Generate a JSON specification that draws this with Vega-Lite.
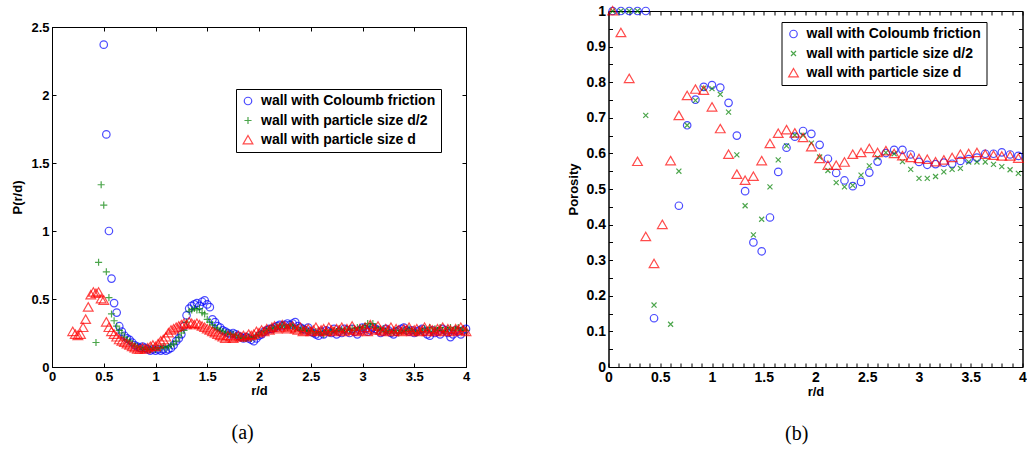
{
"$schema":"https://vega.github.io/schema/vega-lite/v6.json",
"background":"white",
"padding":{"left":11,"top":3,"right":0,"bottom":0},
"config":{
"font":"Liberation Sans",
"view":{"stroke":"black","strokeWidth":1},
"axis":{"grid":false,"domainColor":"black","domainWidth":1,"tickColor":"black","tickWidth":1,"tickSize":-4,"labelPadding":7,"labelFont":"Liberation Sans","labelFontSize":13,"labelFontWeight":"bold","labelColor":"black","titleFont":"Liberation Sans","titleFontSize":13,"titleFontWeight":"bold","titleColor":"black","labelFlush":false,"labelOverlap":false,"labelBound":false,"titlePadding":1},
"legend":{"orient":"none","labelFont":"Liberation Sans","labelFontSize":14,"labelFontWeight":"bold","labelColor":"black","labelLimit":400,"strokeColor":"black","fillColor":"white","padding":5,"rowPadding":5.5,"symbolStrokeWidth":1.2,"symbolSize":56,"labelOffset":6},
"title":{"font":"Liberation Serif","fontSize":20,"fontWeight":"normal","color":"black"}
},
"datasets":{
"left":[
{"r":0.5,"p":2.37,"s":"c"},{"r":0.525,"p":1.71,"s":"c"},{"r":0.55,"p":1.0,"s":"c"},{"r":0.575,"p":0.65,"s":"c"},{"r":0.6,"p":0.47,"s":"c"},{"r":0.625,"p":0.4,"s":"c"},{"r":0.65,"p":0.3,"s":"c"},{"r":0.675,"p":0.26,"s":"c"},{"r":0.7,"p":0.23,"s":"c"},{"r":0.725,"p":0.21,"s":"c"},{"r":0.75,"p":0.2,"s":"c"},{"r":0.775,"p":0.18,"s":"c"},{"r":0.8,"p":0.16,"s":"c"},{"r":0.825,"p":0.15,"s":"c"},{"r":0.85,"p":0.14,"s":"c"},{"r":0.875,"p":0.15,"s":"c"},{"r":0.9,"p":0.14,"s":"c"},{"r":0.925,"p":0.13,"s":"c"},{"r":0.95,"p":0.12,"s":"c"},{"r":0.975,"p":0.13,"s":"c"},{"r":1.0,"p":0.12,"s":"c"},{"r":1.025,"p":0.13,"s":"c"},{"r":1.05,"p":0.12,"s":"c"},{"r":1.075,"p":0.13,"s":"c"},{"r":1.1,"p":0.12,"s":"c"},{"r":1.125,"p":0.13,"s":"c"},{"r":1.15,"p":0.14,"s":"c"},{"r":1.175,"p":0.16,"s":"c"},{"r":1.2,"p":0.19,"s":"c"},{"r":1.225,"p":0.21,"s":"c"},{"r":1.25,"p":0.24,"s":"c"},{"r":1.275,"p":0.3,"s":"c"},{"r":1.3,"p":0.38,"s":"c"},{"r":1.325,"p":0.43,"s":"c"},{"r":1.35,"p":0.45,"s":"c"},{"r":1.375,"p":0.46,"s":"c"},{"r":1.4,"p":0.47,"s":"c"},{"r":1.425,"p":0.45,"s":"c"},{"r":1.45,"p":0.48,"s":"c"},{"r":1.475,"p":0.49,"s":"c"},{"r":1.5,"p":0.46,"s":"c"},{"r":1.525,"p":0.44,"s":"c"},{"r":1.55,"p":0.35,"s":"c"},{"r":1.575,"p":0.33,"s":"c"},{"r":1.6,"p":0.3,"s":"c"},{"r":1.625,"p":0.29,"s":"c"},{"r":1.65,"p":0.27,"s":"c"},{"r":1.675,"p":0.26,"s":"c"},{"r":1.7,"p":0.25,"s":"c"},{"r":1.725,"p":0.24,"s":"c"},{"r":1.75,"p":0.25,"s":"c"},{"r":1.775,"p":0.24,"s":"c"},{"r":1.8,"p":0.23,"s":"c"},{"r":1.825,"p":0.22,"s":"c"},{"r":1.85,"p":0.21,"s":"c"},{"r":1.875,"p":0.22,"s":"c"},{"r":1.9,"p":0.21,"s":"c"},{"r":1.925,"p":0.2,"s":"c"},{"r":1.95,"p":0.19,"s":"c"},{"r":1.975,"p":0.21,"s":"c"},{"r":2.0,"p":0.23,"s":"c"},{"r":2.025,"p":0.24,"s":"c"},{"r":2.05,"p":0.26,"s":"c"},{"r":2.075,"p":0.27,"s":"c"},{"r":2.1,"p":0.28,"s":"c"},{"r":2.125,"p":0.28,"s":"c"},{"r":2.15,"p":0.29,"s":"c"},{"r":2.175,"p":0.3,"s":"c"},{"r":2.2,"p":0.31,"s":"c"},{"r":2.225,"p":0.3,"s":"c"},{"r":2.25,"p":0.31,"s":"c"},{"r":2.275,"p":0.32,"s":"c"},{"r":2.3,"p":0.31,"s":"c"},{"r":2.325,"p":0.32,"s":"c"},{"r":2.35,"p":0.33,"s":"c"},{"r":2.375,"p":0.3,"s":"c"},{"r":2.4,"p":0.29,"s":"c"},{"r":2.425,"p":0.28,"s":"c"},{"r":2.45,"p":0.27,"s":"c"},{"r":2.475,"p":0.29,"s":"c"},{"r":2.5,"p":0.26,"s":"c"},{"r":2.525,"p":0.25,"s":"c"},{"r":2.55,"p":0.24,"s":"c"},{"r":2.575,"p":0.23,"s":"c"},{"r":2.6,"p":0.26,"s":"c"},{"r":2.625,"p":0.24,"s":"c"},{"r":2.65,"p":0.27,"s":"c"},{"r":2.675,"p":0.26,"s":"c"},{"r":2.7,"p":0.25,"s":"c"},{"r":2.725,"p":0.28,"s":"c"},{"r":2.75,"p":0.24,"s":"c"},{"r":2.775,"p":0.26,"s":"c"},{"r":2.8,"p":0.25,"s":"c"},{"r":2.825,"p":0.28,"s":"c"},{"r":2.85,"p":0.27,"s":"c"},{"r":2.875,"p":0.25,"s":"c"},{"r":2.9,"p":0.28,"s":"c"},{"r":2.925,"p":0.26,"s":"c"},{"r":2.95,"p":0.24,"s":"c"},{"r":2.975,"p":0.27,"s":"c"},{"r":3.0,"p":0.29,"s":"c"},{"r":3.025,"p":0.28,"s":"c"},{"r":3.05,"p":0.26,"s":"c"},{"r":3.075,"p":0.27,"s":"c"},{"r":3.1,"p":0.29,"s":"c"},{"r":3.125,"p":0.28,"s":"c"},{"r":3.15,"p":0.27,"s":"c"},{"r":3.175,"p":0.25,"s":"c"},{"r":3.2,"p":0.26,"s":"c"},{"r":3.225,"p":0.28,"s":"c"},{"r":3.25,"p":0.27,"s":"c"},{"r":3.275,"p":0.25,"s":"c"},{"r":3.3,"p":0.24,"s":"c"},{"r":3.325,"p":0.26,"s":"c"},{"r":3.35,"p":0.27,"s":"c"},{"r":3.375,"p":0.28,"s":"c"},{"r":3.4,"p":0.29,"s":"c"},{"r":3.425,"p":0.27,"s":"c"},{"r":3.45,"p":0.26,"s":"c"},{"r":3.475,"p":0.27,"s":"c"},{"r":3.5,"p":0.25,"s":"c"},{"r":3.525,"p":0.26,"s":"c"},{"r":3.55,"p":0.27,"s":"c"},{"r":3.575,"p":0.28,"s":"c"},{"r":3.6,"p":0.26,"s":"c"},{"r":3.625,"p":0.24,"s":"c"},{"r":3.65,"p":0.23,"s":"c"},{"r":3.675,"p":0.27,"s":"c"},{"r":3.7,"p":0.25,"s":"c"},{"r":3.725,"p":0.26,"s":"c"},{"r":3.75,"p":0.24,"s":"c"},{"r":3.775,"p":0.28,"s":"c"},{"r":3.8,"p":0.27,"s":"c"},{"r":3.825,"p":0.25,"s":"c"},{"r":3.85,"p":0.22,"s":"c"},{"r":3.875,"p":0.24,"s":"c"},{"r":3.9,"p":0.27,"s":"c"},{"r":3.925,"p":0.26,"s":"c"},{"r":3.95,"p":0.24,"s":"c"},{"r":3.975,"p":0.27,"s":"c"},{"r":4.0,"p":0.28,"s":"c"},
{"r":0.425,"p":0.18,"s":"h"},{"r":0.45,"p":0.77,"s":"h"},{"r":0.475,"p":1.34,"s":"h"},{"r":0.5,"p":1.19,"s":"h"},{"r":0.525,"p":0.7,"s":"h"},{"r":0.55,"p":0.51,"s":"h"},{"r":0.575,"p":0.39,"s":"h"},{"r":0.6,"p":0.34,"s":"h"},{"r":0.625,"p":0.3,"s":"h"},{"r":0.65,"p":0.27,"s":"h"},{"r":0.675,"p":0.25,"s":"h"},{"r":0.7,"p":0.22,"s":"h"},{"r":0.725,"p":0.2,"s":"h"},{"r":0.75,"p":0.19,"s":"h"},{"r":0.775,"p":0.17,"s":"h"},{"r":0.8,"p":0.16,"s":"h"},{"r":0.825,"p":0.15,"s":"h"},{"r":0.85,"p":0.14,"s":"h"},{"r":0.875,"p":0.13,"s":"h"},{"r":0.9,"p":0.14,"s":"h"},{"r":0.925,"p":0.13,"s":"h"},{"r":0.95,"p":0.13,"s":"h"},{"r":0.975,"p":0.14,"s":"h"},{"r":1.0,"p":0.13,"s":"h"},{"r":1.025,"p":0.14,"s":"h"},{"r":1.05,"p":0.14,"s":"h"},{"r":1.075,"p":0.15,"s":"h"},{"r":1.1,"p":0.14,"s":"h"},{"r":1.125,"p":0.15,"s":"h"},{"r":1.15,"p":0.16,"s":"h"},{"r":1.175,"p":0.17,"s":"h"},{"r":1.2,"p":0.19,"s":"h"},{"r":1.225,"p":0.22,"s":"h"},{"r":1.25,"p":0.25,"s":"h"},{"r":1.275,"p":0.27,"s":"h"},{"r":1.3,"p":0.33,"s":"h"},{"r":1.325,"p":0.41,"s":"h"},{"r":1.35,"p":0.42,"s":"h"},{"r":1.375,"p":0.43,"s":"h"},{"r":1.4,"p":0.42,"s":"h"},{"r":1.425,"p":0.43,"s":"h"},{"r":1.45,"p":0.4,"s":"h"},{"r":1.475,"p":0.39,"s":"h"},{"r":1.5,"p":0.35,"s":"h"},{"r":1.525,"p":0.33,"s":"h"},{"r":1.55,"p":0.31,"s":"h"},{"r":1.575,"p":0.29,"s":"h"},{"r":1.6,"p":0.28,"s":"h"},{"r":1.625,"p":0.27,"s":"h"},{"r":1.65,"p":0.26,"s":"h"},{"r":1.675,"p":0.25,"s":"h"},{"r":1.7,"p":0.25,"s":"h"},{"r":1.725,"p":0.24,"s":"h"},{"r":1.75,"p":0.24,"s":"h"},{"r":1.775,"p":0.23,"s":"h"},{"r":1.8,"p":0.22,"s":"h"},{"r":1.825,"p":0.22,"s":"h"},{"r":1.85,"p":0.21,"s":"h"},{"r":1.875,"p":0.21,"s":"h"},{"r":1.9,"p":0.22,"s":"h"},{"r":1.925,"p":0.21,"s":"h"},{"r":1.95,"p":0.22,"s":"h"},{"r":1.975,"p":0.23,"s":"h"},{"r":2.0,"p":0.24,"s":"h"},{"r":2.025,"p":0.25,"s":"h"},{"r":2.05,"p":0.26,"s":"h"},{"r":2.075,"p":0.27,"s":"h"},{"r":2.1,"p":0.28,"s":"h"},{"r":2.125,"p":0.29,"s":"h"},{"r":2.15,"p":0.28,"s":"h"},{"r":2.175,"p":0.3,"s":"h"},{"r":2.2,"p":0.29,"s":"h"},{"r":2.225,"p":0.31,"s":"h"},{"r":2.25,"p":0.3,"s":"h"},{"r":2.275,"p":0.29,"s":"h"},{"r":2.3,"p":0.31,"s":"h"},{"r":2.325,"p":0.3,"s":"h"},{"r":2.35,"p":0.28,"s":"h"},{"r":2.375,"p":0.29,"s":"h"},{"r":2.4,"p":0.27,"s":"h"},{"r":2.425,"p":0.28,"s":"h"},{"r":2.45,"p":0.27,"s":"h"},{"r":2.475,"p":0.26,"s":"h"},{"r":2.5,"p":0.27,"s":"h"},{"r":2.525,"p":0.25,"s":"h"},{"r":2.55,"p":0.26,"s":"h"},{"r":2.575,"p":0.25,"s":"h"},{"r":2.6,"p":0.26,"s":"h"},{"r":2.625,"p":0.24,"s":"h"},{"r":2.65,"p":0.27,"s":"h"},{"r":2.675,"p":0.25,"s":"h"},{"r":2.7,"p":0.26,"s":"h"},{"r":2.725,"p":0.27,"s":"h"},{"r":2.75,"p":0.26,"s":"h"},{"r":2.775,"p":0.28,"s":"h"},{"r":2.8,"p":0.27,"s":"h"},{"r":2.825,"p":0.26,"s":"h"},{"r":2.85,"p":0.28,"s":"h"},{"r":2.875,"p":0.27,"s":"h"},{"r":2.9,"p":0.28,"s":"h"},{"r":2.925,"p":0.27,"s":"h"},{"r":2.95,"p":0.29,"s":"h"},{"r":2.975,"p":0.28,"s":"h"},{"r":3.0,"p":0.29,"s":"h"},{"r":3.025,"p":0.3,"s":"h"},{"r":3.05,"p":0.32,"s":"h"},{"r":3.075,"p":0.31,"s":"h"},{"r":3.1,"p":0.32,"s":"h"},{"r":3.125,"p":0.29,"s":"h"},{"r":3.15,"p":0.28,"s":"h"},{"r":3.175,"p":0.27,"s":"h"},{"r":3.2,"p":0.28,"s":"h"},{"r":3.225,"p":0.26,"s":"h"},{"r":3.25,"p":0.27,"s":"h"},{"r":3.275,"p":0.25,"s":"h"},{"r":3.3,"p":0.26,"s":"h"},{"r":3.325,"p":0.27,"s":"h"},{"r":3.35,"p":0.25,"s":"h"},{"r":3.375,"p":0.26,"s":"h"},{"r":3.4,"p":0.27,"s":"h"},{"r":3.425,"p":0.26,"s":"h"},{"r":3.45,"p":0.28,"s":"h"},{"r":3.475,"p":0.27,"s":"h"},{"r":3.5,"p":0.26,"s":"h"},{"r":3.525,"p":0.25,"s":"h"},{"r":3.55,"p":0.27,"s":"h"},{"r":3.575,"p":0.26,"s":"h"},{"r":3.6,"p":0.28,"s":"h"},{"r":3.625,"p":0.27,"s":"h"},{"r":3.65,"p":0.29,"s":"h"},{"r":3.675,"p":0.26,"s":"h"},{"r":3.7,"p":0.28,"s":"h"},{"r":3.725,"p":0.27,"s":"h"},{"r":3.75,"p":0.29,"s":"h"},{"r":3.775,"p":0.27,"s":"h"},{"r":3.8,"p":0.26,"s":"h"},{"r":3.825,"p":0.28,"s":"h"},{"r":3.85,"p":0.29,"s":"h"},{"r":3.875,"p":0.27,"s":"h"},{"r":3.9,"p":0.28,"s":"h"},{"r":3.925,"p":0.29,"s":"h"},{"r":3.95,"p":0.27,"s":"h"},{"r":3.975,"p":0.28,"s":"h"},{"r":4.0,"p":0.27,"s":"h"},
{"r":0.2,"p":0.26,"s":"d"},{"r":0.225,"p":0.24,"s":"d"},{"r":0.25,"p":0.23,"s":"d"},{"r":0.275,"p":0.24,"s":"d"},{"r":0.3,"p":0.29,"s":"d"},{"r":0.325,"p":0.35,"s":"d"},{"r":0.35,"p":0.44,"s":"d"},{"r":0.375,"p":0.53,"s":"d"},{"r":0.4,"p":0.55,"s":"d"},{"r":0.425,"p":0.54,"s":"d"},{"r":0.45,"p":0.55,"s":"d"},{"r":0.475,"p":0.5,"s":"d"},{"r":0.5,"p":0.49,"s":"d"},{"r":0.525,"p":0.33,"s":"d"},{"r":0.55,"p":0.29,"s":"d"},{"r":0.575,"p":0.26,"s":"d"},{"r":0.6,"p":0.24,"s":"d"},{"r":0.625,"p":0.22,"s":"d"},{"r":0.65,"p":0.2,"s":"d"},{"r":0.675,"p":0.19,"s":"d"},{"r":0.7,"p":0.18,"s":"d"},{"r":0.725,"p":0.17,"s":"d"},{"r":0.75,"p":0.16,"s":"d"},{"r":0.775,"p":0.15,"s":"d"},{"r":0.8,"p":0.14,"s":"d"},{"r":0.825,"p":0.13,"s":"d"},{"r":0.85,"p":0.13,"s":"d"},{"r":0.875,"p":0.14,"s":"d"},{"r":0.9,"p":0.13,"s":"d"},{"r":0.925,"p":0.14,"s":"d"},{"r":0.95,"p":0.15,"s":"d"},{"r":0.975,"p":0.16,"s":"d"},{"r":1.0,"p":0.15,"s":"d"},{"r":1.025,"p":0.17,"s":"d"},{"r":1.05,"p":0.19,"s":"d"},{"r":1.075,"p":0.2,"s":"d"},{"r":1.1,"p":0.22,"s":"d"},{"r":1.125,"p":0.25,"s":"d"},{"r":1.15,"p":0.27,"s":"d"},{"r":1.175,"p":0.28,"s":"d"},{"r":1.2,"p":0.29,"s":"d"},{"r":1.225,"p":0.3,"s":"d"},{"r":1.25,"p":0.31,"s":"d"},{"r":1.275,"p":0.32,"s":"d"},{"r":1.3,"p":0.31,"s":"d"},{"r":1.325,"p":0.33,"s":"d"},{"r":1.35,"p":0.32,"s":"d"},{"r":1.375,"p":0.31,"s":"d"},{"r":1.4,"p":0.32,"s":"d"},{"r":1.425,"p":0.31,"s":"d"},{"r":1.45,"p":0.3,"s":"d"},{"r":1.475,"p":0.29,"s":"d"},{"r":1.5,"p":0.28,"s":"d"},{"r":1.525,"p":0.27,"s":"d"},{"r":1.55,"p":0.26,"s":"d"},{"r":1.575,"p":0.25,"s":"d"},{"r":1.6,"p":0.24,"s":"d"},{"r":1.625,"p":0.23,"s":"d"},{"r":1.65,"p":0.22,"s":"d"},{"r":1.675,"p":0.21,"s":"d"},{"r":1.7,"p":0.23,"s":"d"},{"r":1.725,"p":0.22,"s":"d"},{"r":1.75,"p":0.21,"s":"d"},{"r":1.775,"p":0.22,"s":"d"},{"r":1.8,"p":0.23,"s":"d"},{"r":1.825,"p":0.22,"s":"d"},{"r":1.85,"p":0.23,"s":"d"},{"r":1.875,"p":0.22,"s":"d"},{"r":1.9,"p":0.24,"s":"d"},{"r":1.925,"p":0.23,"s":"d"},{"r":1.95,"p":0.24,"s":"d"},{"r":1.975,"p":0.26,"s":"d"},{"r":2.0,"p":0.25,"s":"d"},{"r":2.025,"p":0.27,"s":"d"},{"r":2.05,"p":0.26,"s":"d"},{"r":2.075,"p":0.28,"s":"d"},{"r":2.1,"p":0.27,"s":"d"},{"r":2.125,"p":0.29,"s":"d"},{"r":2.15,"p":0.3,"s":"d"},{"r":2.175,"p":0.28,"s":"d"},{"r":2.2,"p":0.29,"s":"d"},{"r":2.225,"p":0.31,"s":"d"},{"r":2.25,"p":0.3,"s":"d"},{"r":2.275,"p":0.28,"s":"d"},{"r":2.3,"p":0.29,"s":"d"},{"r":2.325,"p":0.3,"s":"d"},{"r":2.35,"p":0.28,"s":"d"},{"r":2.375,"p":0.27,"s":"d"},{"r":2.4,"p":0.29,"s":"d"},{"r":2.425,"p":0.26,"s":"d"},{"r":2.45,"p":0.27,"s":"d"},{"r":2.475,"p":0.28,"s":"d"},{"r":2.5,"p":0.26,"s":"d"},{"r":2.525,"p":0.27,"s":"d"},{"r":2.55,"p":0.29,"s":"d"},{"r":2.575,"p":0.26,"s":"d"},{"r":2.6,"p":0.27,"s":"d"},{"r":2.625,"p":0.28,"s":"d"},{"r":2.65,"p":0.26,"s":"d"},{"r":2.675,"p":0.29,"s":"d"},{"r":2.7,"p":0.27,"s":"d"},{"r":2.725,"p":0.26,"s":"d"},{"r":2.75,"p":0.28,"s":"d"},{"r":2.775,"p":0.27,"s":"d"},{"r":2.8,"p":0.29,"s":"d"},{"r":2.825,"p":0.26,"s":"d"},{"r":2.85,"p":0.28,"s":"d"},{"r":2.875,"p":0.27,"s":"d"},{"r":2.9,"p":0.3,"s":"d"},{"r":2.925,"p":0.27,"s":"d"},{"r":2.95,"p":0.26,"s":"d"},{"r":2.975,"p":0.28,"s":"d"},{"r":3.0,"p":0.27,"s":"d"},{"r":3.025,"p":0.29,"s":"d"},{"r":3.05,"p":0.26,"s":"d"},{"r":3.075,"p":0.31,"s":"d"},{"r":3.1,"p":0.28,"s":"d"},{"r":3.125,"p":0.27,"s":"d"},{"r":3.15,"p":0.3,"s":"d"},{"r":3.175,"p":0.27,"s":"d"},{"r":3.2,"p":0.26,"s":"d"},{"r":3.225,"p":0.28,"s":"d"},{"r":3.25,"p":0.27,"s":"d"},{"r":3.275,"p":0.29,"s":"d"},{"r":3.3,"p":0.26,"s":"d"},{"r":3.325,"p":0.28,"s":"d"},{"r":3.35,"p":0.27,"s":"d"},{"r":3.375,"p":0.26,"s":"d"},{"r":3.4,"p":0.28,"s":"d"},{"r":3.425,"p":0.27,"s":"d"},{"r":3.45,"p":0.29,"s":"d"},{"r":3.475,"p":0.26,"s":"d"},{"r":3.5,"p":0.27,"s":"d"},{"r":3.525,"p":0.28,"s":"d"},{"r":3.55,"p":0.26,"s":"d"},{"r":3.575,"p":0.27,"s":"d"},{"r":3.6,"p":0.29,"s":"d"},{"r":3.625,"p":0.26,"s":"d"},{"r":3.65,"p":0.28,"s":"d"},{"r":3.675,"p":0.27,"s":"d"},{"r":3.7,"p":0.26,"s":"d"},{"r":3.725,"p":0.28,"s":"d"},{"r":3.75,"p":0.27,"s":"d"},{"r":3.775,"p":0.29,"s":"d"},{"r":3.8,"p":0.26,"s":"d"},{"r":3.825,"p":0.28,"s":"d"},{"r":3.85,"p":0.27,"s":"d"},{"r":3.875,"p":0.26,"s":"d"},{"r":3.9,"p":0.28,"s":"d"},{"r":3.925,"p":0.27,"s":"d"},{"r":3.95,"p":0.29,"s":"d"},{"r":3.975,"p":0.27,"s":"d"},{"r":4.0,"p":0.26,"s":"d"}
],
"right":[
{"r":0.04,"p":1,"s":"c"},{"r":0.12,"p":1,"s":"c"},{"r":0.2,"p":1,"s":"c"},{"r":0.28,"p":1,"s":"c"},{"r":0.36,"p":1,"s":"c"},{"r":0.44,"p":0.137,"s":"c"},{"r":0.68,"p":0.453,"s":"c"},{"r":0.76,"p":0.679,"s":"c"},{"r":0.84,"p":0.751,"s":"c"},{"r":0.92,"p":0.787,"s":"c"},{"r":1.0,"p":0.792,"s":"c"},{"r":1.08,"p":0.785,"s":"c"},{"r":1.16,"p":0.742,"s":"c"},{"r":1.24,"p":0.65,"s":"c"},{"r":1.32,"p":0.494,"s":"c"},{"r":1.4,"p":0.35,"s":"c"},{"r":1.48,"p":0.325,"s":"c"},{"r":1.56,"p":0.42,"s":"c"},{"r":1.64,"p":0.548,"s":"c"},{"r":1.72,"p":0.616,"s":"c"},{"r":1.8,"p":0.647,"s":"c"},{"r":1.88,"p":0.663,"s":"c"},{"r":1.96,"p":0.655,"s":"c"},{"r":2.04,"p":0.624,"s":"c"},{"r":2.12,"p":0.585,"s":"c"},{"r":2.2,"p":0.545,"s":"c"},{"r":2.28,"p":0.524,"s":"c"},{"r":2.36,"p":0.508,"s":"c"},{"r":2.44,"p":0.52,"s":"c"},{"r":2.52,"p":0.546,"s":"c"},{"r":2.6,"p":0.577,"s":"c"},{"r":2.68,"p":0.601,"s":"c"},{"r":2.76,"p":0.61,"s":"c"},{"r":2.84,"p":0.61,"s":"c"},{"r":2.92,"p":0.597,"s":"c"},{"r":3.0,"p":0.576,"s":"c"},{"r":3.08,"p":0.568,"s":"c"},{"r":3.16,"p":0.57,"s":"c"},{"r":3.24,"p":0.574,"s":"c"},{"r":3.32,"p":0.571,"s":"c"},{"r":3.4,"p":0.579,"s":"c"},{"r":3.48,"p":0.584,"s":"c"},{"r":3.56,"p":0.588,"s":"c"},{"r":3.64,"p":0.599,"s":"c"},{"r":3.72,"p":0.599,"s":"c"},{"r":3.8,"p":0.603,"s":"c"},{"r":3.88,"p":0.597,"s":"c"},{"r":3.96,"p":0.593,"s":"c"},
{"r":0.04,"p":1,"s":"h"},{"r":0.12,"p":1,"s":"h"},{"r":0.2,"p":1,"s":"h"},{"r":0.28,"p":1,"s":"h"},{"r":0.36,"p":0.707,"s":"h"},{"r":0.44,"p":0.174,"s":"h"},{"r":0.6,"p":0.12,"s":"h"},{"r":0.68,"p":0.55,"s":"h"},{"r":0.76,"p":0.679,"s":"h"},{"r":0.84,"p":0.749,"s":"h"},{"r":0.92,"p":0.783,"s":"h"},{"r":1.0,"p":0.782,"s":"h"},{"r":1.08,"p":0.766,"s":"h"},{"r":1.16,"p":0.716,"s":"h"},{"r":1.24,"p":0.596,"s":"h"},{"r":1.32,"p":0.453,"s":"h"},{"r":1.4,"p":0.371,"s":"h"},{"r":1.48,"p":0.415,"s":"h"},{"r":1.56,"p":0.506,"s":"h"},{"r":1.64,"p":0.582,"s":"h"},{"r":1.72,"p":0.621,"s":"h"},{"r":1.8,"p":0.651,"s":"h"},{"r":1.88,"p":0.651,"s":"h"},{"r":1.96,"p":0.629,"s":"h"},{"r":2.04,"p":0.59,"s":"h"},{"r":2.12,"p":0.552,"s":"h"},{"r":2.2,"p":0.518,"s":"h"},{"r":2.28,"p":0.506,"s":"h"},{"r":2.36,"p":0.51,"s":"h"},{"r":2.44,"p":0.539,"s":"h"},{"r":2.52,"p":0.565,"s":"h"},{"r":2.6,"p":0.588,"s":"h"},{"r":2.68,"p":0.602,"s":"h"},{"r":2.76,"p":0.599,"s":"h"},{"r":2.84,"p":0.577,"s":"h"},{"r":2.92,"p":0.555,"s":"h"},{"r":3.0,"p":0.53,"s":"h"},{"r":3.08,"p":0.53,"s":"h"},{"r":3.16,"p":0.535,"s":"h"},{"r":3.24,"p":0.548,"s":"h"},{"r":3.32,"p":0.555,"s":"h"},{"r":3.4,"p":0.558,"s":"h"},{"r":3.48,"p":0.576,"s":"h"},{"r":3.56,"p":0.576,"s":"h"},{"r":3.64,"p":0.576,"s":"h"},{"r":3.72,"p":0.569,"s":"h"},{"r":3.8,"p":0.563,"s":"h"},{"r":3.88,"p":0.554,"s":"h"},{"r":3.96,"p":0.544,"s":"h"},
{"r":0.04,"p":1,"s":"d"},{"r":0.12,"p":0.939,"s":"d"},{"r":0.2,"p":0.81,"s":"d"},{"r":0.28,"p":0.577,"s":"d"},{"r":0.36,"p":0.366,"s":"d"},{"r":0.44,"p":0.29,"s":"d"},{"r":0.52,"p":0.4,"s":"d"},{"r":0.6,"p":0.579,"s":"d"},{"r":0.68,"p":0.706,"s":"d"},{"r":0.76,"p":0.762,"s":"d"},{"r":0.84,"p":0.78,"s":"d"},{"r":0.92,"p":0.777,"s":"d"},{"r":1.0,"p":0.73,"s":"d"},{"r":1.08,"p":0.669,"s":"d"},{"r":1.16,"p":0.597,"s":"d"},{"r":1.24,"p":0.541,"s":"d"},{"r":1.32,"p":0.524,"s":"d"},{"r":1.4,"p":0.535,"s":"d"},{"r":1.48,"p":0.579,"s":"d"},{"r":1.56,"p":0.627,"s":"d"},{"r":1.64,"p":0.656,"s":"d"},{"r":1.72,"p":0.666,"s":"d"},{"r":1.8,"p":0.657,"s":"d"},{"r":1.88,"p":0.644,"s":"d"},{"r":1.96,"p":0.618,"s":"d"},{"r":2.04,"p":0.585,"s":"d"},{"r":2.12,"p":0.566,"s":"d"},{"r":2.2,"p":0.566,"s":"d"},{"r":2.28,"p":0.575,"s":"d"},{"r":2.36,"p":0.597,"s":"d"},{"r":2.44,"p":0.602,"s":"d"},{"r":2.52,"p":0.613,"s":"d"},{"r":2.6,"p":0.602,"s":"d"},{"r":2.68,"p":0.607,"s":"d"},{"r":2.76,"p":0.599,"s":"d"},{"r":2.84,"p":0.593,"s":"d"},{"r":2.92,"p":0.588,"s":"d"},{"r":3.0,"p":0.585,"s":"d"},{"r":3.08,"p":0.583,"s":"d"},{"r":3.16,"p":0.576,"s":"d"},{"r":3.24,"p":0.581,"s":"d"},{"r":3.32,"p":0.588,"s":"d"},{"r":3.4,"p":0.597,"s":"d"},{"r":3.48,"p":0.599,"s":"d"},{"r":3.56,"p":0.602,"s":"d"},{"r":3.64,"p":0.597,"s":"d"},{"r":3.72,"p":0.594,"s":"d"},{"r":3.8,"p":0.592,"s":"d"},{"r":3.88,"p":0.592,"s":"d"},{"r":3.96,"p":0.586,"s":"d"}
]
},
"spacing":92.5,
"resolve":{"scale":{"color":"independent","shape":"independent"},"legend":{"color":"independent","shape":"independent"}},
"hconcat":[
{
"spacing":8,
"resolve":{"scale":{"color":"independent","shape":"independent"},"legend":{"color":"independent","shape":"independent"}},
"vconcat":[
{"width":414,"height":1,"data":{"values":[]},"mark":"point","view":{"stroke":null}},
{
"width":414,"height":340,
"title":{"text":"(a)","orient":"bottom","anchor":"middle","frame":"bounds","offset":26},
"resolve":{"axis":{"x":"independent","y":"independent"}},
"layer":[
{"data":{"name":"left"},
"mark":{"type":"point","filled":false,"strokeWidth":1.2,"size":56,"clip":false},
"encoding":{
"x":{"field":"r","type":"quantitative","scale":{"domain":[0,4],"nice":false,"zero":false},"axis":{"title":"r/d","values":[0,0.5,1,1.5,2,2.5,3,3.5,4],"format":"~g"}},
"y":{"field":"p","type":"quantitative","scale":{"domain":[0,2.5],"nice":false,"zero":false},"axis":{"title":"P(r/d)","values":[0,0.5,1,1.5,2,2.5],"format":"~g","titlePadding":6}},
"color":{"field":"s","type":"nominal","scale":{"domain":["c","h","d"],"range":["#0000ff","#008000","#ff0000"]},"legend":{"title":null,"legendX":184,"legendY":62,"labelExpr":"datum.label=='c'?'wall with Coloumb friction':datum.label=='h'?'wall with particle size d/2':'wall with particle size d'"}},
"shape":{"field":"s","type":"nominal","scale":{"domain":["c","h","d"],"range":["circle","M-0.95,0L0.95,0M0,-0.95L0,0.95","M0,-1.2L1.3,1.05L-1.3,1.05Z"]}}
}},
{"data":{"name":"left"},
"mark":{"type":"point","opacity":0},
"encoding":{
"x":{"field":"r","type":"quantitative","axis":{"orient":"top","labels":false,"title":null,"values":[0,0.5,1,1.5,2,2.5,3,3.5,4]}},
"y":{"field":"p","type":"quantitative","axis":{"orient":"right","labels":false,"title":null,"values":[0,0.5,1,1.5,2,2.5]}}
}}
]
}
]
},
{
"width":414,"height":356,
"title":{"text":"(b)","orient":"bottom","anchor":"middle","frame":"bounds","offset":26},
"resolve":{"axis":{"x":"independent","y":"independent"}},
"layer":[
{"data":{"name":"right"},
"mark":{"type":"point","filled":false,"strokeWidth":1.2,"size":56,"clip":false},
"encoding":{
"x":{"field":"r","type":"quantitative","scale":{"domain":[0,4],"nice":false,"zero":false},"axis":{"title":"r/d","labelFontSize":14,"values":[0,0.1,0.2,0.3,0.4,0.5,0.6,0.7,0.8,0.9,1,1.1,1.2,1.3,1.4,1.5,1.6,1.7,1.8,1.9,2,2.1,2.2,2.3,2.4,2.5,2.6,2.7,2.8,2.9,3,3.1,3.2,3.3,3.4,3.5,3.6,3.7,3.8,3.9,4],"format":"~g","labelExpr":"abs(datum.value*2-round(datum.value*2))<0.001 ? datum.label : ''","encode":{"ticks":{"update":{"y2":{"signal":"abs(datum.value*2-round(datum.value*2))<0.001 ? -5 : -2.5"}}}}}},
"y":{"field":"p","type":"quantitative","scale":{"domain":[0,1],"nice":false,"zero":false},"axis":{"title":"Porosity","labelFontSize":14,"values":[0,0.05,0.1,0.15,0.2,0.25,0.3,0.35,0.4,0.45,0.5,0.55,0.6,0.65,0.7,0.75,0.8,0.85,0.9,0.95,1],"format":"~g","labelExpr":"abs(datum.value*10-round(datum.value*10))<0.001 ? datum.label : ''","titlePadding":6,"encode":{"ticks":{"update":{"x2":{"signal":"abs(datum.value*10-round(datum.value*10))<0.001 ? 5 : 2.5"}}}}}},
"color":{"field":"s","type":"nominal","scale":{"domain":["c","h","d"],"range":["#0000ff","#008000","#ff0000"]},"legend":{"title":null,"legendX":173,"legendY":11,"labelExpr":"datum.label=='c'?'wall with Coloumb friction':datum.label=='h'?'wall with particle size d/2':'wall with particle size d'"}},
"shape":{"field":"s","type":"nominal","scale":{"domain":["c","h","d"],"range":["circle","M-0.67,-0.67L0.67,0.67M-0.67,0.67L0.67,-0.67","M0,-1.2L1.3,1.05L-1.3,1.05Z"]}}
}},
{"data":{"name":"right"},
"mark":{"type":"point","opacity":0},
"encoding":{
"x":{"field":"r","type":"quantitative","axis":{"orient":"top","labels":false,"title":null,"values":[0,0.1,0.2,0.3,0.4,0.5,0.6,0.7,0.8,0.9,1,1.1,1.2,1.3,1.4,1.5,1.6,1.7,1.8,1.9,2,2.1,2.2,2.3,2.4,2.5,2.6,2.7,2.8,2.9,3,3.1,3.2,3.3,3.4,3.5,3.6,3.7,3.8,3.9,4],"encode":{"ticks":{"update":{"y2":{"signal":"abs(datum.value*2-round(datum.value*2))<0.001 ? 5 : 2.5"}}}}}},
"y":{"field":"p","type":"quantitative","axis":{"orient":"right","labels":false,"title":null,"values":[0,0.05,0.1,0.15,0.2,0.25,0.3,0.35,0.4,0.45,0.5,0.55,0.6,0.65,0.7,0.75,0.8,0.85,0.9,0.95,1],"encode":{"ticks":{"update":{"x2":{"signal":"abs(datum.value*10-round(datum.value*10))<0.001 ? -5 : -2.5"}}}}}}
}}
]
}
]
}
